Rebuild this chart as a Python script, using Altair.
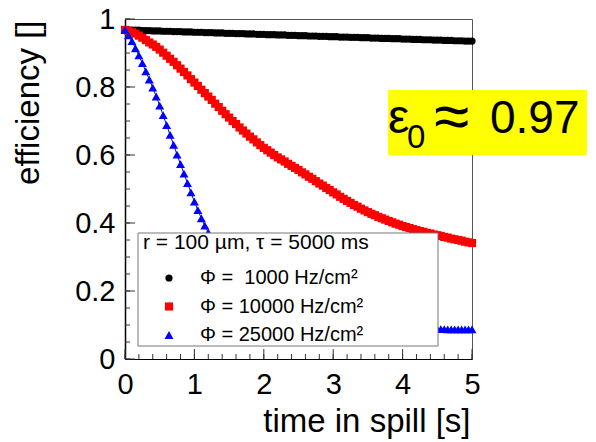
import altair as alt
import pandas as pd

# ---------------- data ----------------
time_s = [round(0.05 * i, 2) for i in range(101)]

eff_1000 = [
    0.968, 0.968, 0.967, 0.967, 0.967, 0.966, 0.966, 0.966, 0.965, 0.965,
    0.965, 0.964, 0.964, 0.964, 0.963, 0.963, 0.963, 0.962, 0.962, 0.962,
    0.961, 0.961, 0.961, 0.960, 0.960, 0.960, 0.959, 0.959, 0.959, 0.958,
    0.958, 0.958, 0.957, 0.957, 0.957, 0.956, 0.956, 0.956, 0.955, 0.955,
    0.955, 0.954, 0.954, 0.954, 0.953, 0.953, 0.953, 0.952, 0.952, 0.952,
    0.951, 0.951, 0.951, 0.950, 0.950, 0.950, 0.949, 0.949, 0.949, 0.948,
    0.948, 0.948, 0.947, 0.947, 0.947, 0.946, 0.946, 0.946, 0.945, 0.945,
    0.945, 0.944, 0.944, 0.944, 0.943, 0.943, 0.943, 0.942, 0.942, 0.942,
    0.941, 0.941, 0.941, 0.940, 0.940, 0.940, 0.939, 0.939, 0.939, 0.938,
    0.938, 0.938, 0.937, 0.937, 0.937, 0.936, 0.936, 0.936, 0.935, 0.935,
    0.935,
]

eff_10000 = [
    0.968, 0.965, 0.961, 0.957, 0.951, 0.945, 0.938, 0.931, 0.925, 0.918,
    0.910, 0.901, 0.892, 0.883, 0.874, 0.864, 0.854, 0.844, 0.834, 0.823,
    0.813, 0.803, 0.792, 0.782, 0.772, 0.762, 0.751, 0.741, 0.730, 0.720,
    0.710, 0.700, 0.691, 0.681, 0.672, 0.663, 0.654, 0.646, 0.637, 0.629,
    0.621, 0.614, 0.607, 0.600, 0.593, 0.587, 0.581, 0.574, 0.568, 0.562,
    0.556, 0.549, 0.543, 0.536, 0.530, 0.523, 0.516, 0.510, 0.503, 0.497,
    0.490, 0.484, 0.477, 0.471, 0.465, 0.459, 0.453, 0.448, 0.442, 0.437,
    0.432, 0.427, 0.423, 0.418, 0.414, 0.410, 0.406, 0.402, 0.398, 0.395,
    0.391, 0.388, 0.385, 0.382, 0.379, 0.376, 0.374, 0.371, 0.369, 0.366,
    0.364, 0.362, 0.359, 0.357, 0.354, 0.352, 0.350, 0.348, 0.345, 0.343,
    0.341,
]

eff_25000 = [
    0.968, 0.952, 0.935, 0.914, 0.893, 0.870, 0.846, 0.822, 0.798, 0.772,
    0.745, 0.717, 0.688, 0.659, 0.630, 0.601, 0.573, 0.545, 0.517, 0.490,
    0.463, 0.438, 0.414, 0.392, 0.372, 0.352, 0.333, 0.315, 0.298, 0.282,
    0.267, 0.253, 0.240, 0.228, 0.217, 0.206, 0.196, 0.187, 0.178, 0.170,
    0.163, 0.156, 0.150, 0.144, 0.139, 0.134, 0.130, 0.126, 0.122, 0.119,
    0.116, 0.113, 0.111, 0.109, 0.107, 0.105, 0.103, 0.102, 0.101, 0.100,
    0.099, 0.098, 0.097, 0.096, 0.095, 0.095, 0.094, 0.094, 0.093, 0.093,
    0.092, 0.092, 0.092, 0.091, 0.091, 0.091, 0.090, 0.090, 0.090, 0.090,
    0.089, 0.089, 0.089, 0.089, 0.089, 0.088, 0.088, 0.088, 0.088, 0.088,
    0.088, 0.088, 0.088, 0.087, 0.087, 0.087, 0.087, 0.087, 0.087, 0.087,
    0.087,
]

series_labels = ["Φ = \u00a01000 Hz/cm²", "Φ = 10000 Hz/cm²", "Φ = 25000 Hz/cm²"]
series_colors = ["#000000", "#ff0000", "#0000ff"]
series_shapes = ["circle", "square", "triangle-up"]
series_sizes = [52, 81, 50]
legend_header = "r = 100 µm, τ = 5000 ms"

x_major = [0, 1, 2, 3, 4, 5]
x_minor = [round(0.2 * i, 1) for i in range(26)]
y_major = [0, 0.2, 0.4, 0.6, 0.8, 1.0]
y_minor = [round(0.05 * i, 2) for i in range(21)]

note_eps = "ε"
note_sub = "0"
note_approx = "≈"
note_value = "0.97"

x_title = "time in spill [s]"
y_title = "efficiency []"

# ---------------- build table ----------------
rows = []
for lab, vals in zip(series_labels, [eff_1000, eff_10000, eff_25000]):
    for t, v in zip(time_s, vals):
        rows.append({"t": t, "eff": v, "series": lab})
df = pd.DataFrame(rows)

W, H = 347, 340
FONT = "Liberation Sans"
xs = alt.Scale(domain=[0, 5], nice=False, zero=False)
ys = alt.Scale(domain=[0, 1], nice=False, zero=False)

base = alt.Chart(df)

legend = alt.Legend(
    title=legend_header, orient="none", legendX=13, legendY=208,
    padding=5, titlePadding=15, rowPadding=8.5, symbolOffset=16, labelOffset=21,
    labelFontSize=20, titleFontSize=21, titleFontWeight="normal",
    titleColor="black", labelColor="black", symbolSize=50,
    titleLimit=500, labelLimit=500, titleAnchor="start",
    symbolStrokeWidth=0,
)

x_main = alt.Axis(
    values=x_major, format="d", labelFontSize=29, labelPadding=11,
    ticks=False, tickSize=0, domainColor="black", domainWidth=1,
    grid=False, title=x_title, titleFontSize=33, titleFontWeight="normal",
    titleAnchor="end", titleAlign="right", titleX=W - 2, titleY=72,
    titleBaseline="alphabetic", labelColor="black", titleColor="black",
    labelFlush=False, labelOverlap=False,
)
y_main = alt.Axis(
    values=y_major, format="~g", labelFontSize=29, labelPadding=10,
    ticks=False, tickSize=0, domainColor="black", domainWidth=1.5,
    grid=False, title=y_title, titleFontSize=33, titleFontWeight="normal",
    titleAngle=270, titleAlign="right", titleX=-87, titleY=1,
    titleBaseline="alphabetic", labelColor="black", titleColor="black",
    labelFlush=False, labelOverlap=False,
)

lines = []
for lab, col in zip(series_labels, series_colors):
    lines.append(
        base.transform_filter(alt.datum.series == lab)
        .mark_line(color=col, strokeWidth=1)
        .encode(
            x=alt.X("t:Q", scale=xs, axis=None),
            y=alt.Y("eff:Q", scale=ys, axis=None),
        )
    )

points = base.mark_point(filled=True, opacity=1, strokeWidth=0).encode(
    x=alt.X("t:Q", scale=xs, axis=x_main),
    y=alt.Y("eff:Q", scale=ys, axis=y_main),
    color=alt.Color("series:N", scale=alt.Scale(domain=series_labels, range=series_colors), legend=legend),
    shape=alt.Shape("series:N", scale=alt.Scale(domain=series_labels, range=series_shapes), legend=legend),
    size=alt.Size("series:N", scale=alt.Scale(domain=series_labels, range=series_sizes), legend=None),
)

# inward tick marks (ROOT style), positioned through the shared scales
TICK_COLOR = "#333333"
xt_major = alt.Chart(pd.DataFrame({"v": x_major})).mark_rule(color=TICK_COLOR, strokeWidth=1).encode(
    x=alt.X("v:Q", scale=xs, axis=None), y=alt.value(H), y2=alt.value(H - 10))
xt_minor = alt.Chart(pd.DataFrame({"v": x_minor})).mark_rule(color=TICK_COLOR, strokeWidth=1).encode(
    x=alt.X("v:Q", scale=xs, axis=None), y=alt.value(H), y2=alt.value(H - 5))
yt_major = alt.Chart(pd.DataFrame({"v": y_major})).mark_rule(color=TICK_COLOR, strokeWidth=1).encode(
    y=alt.Y("v:Q", scale=ys, axis=None), x=alt.value(0), x2=alt.value(10))
yt_minor = alt.Chart(pd.DataFrame({"v": y_minor})).mark_rule(color=TICK_COLOR, strokeWidth=1).encode(
    y=alt.Y("v:Q", scale=ys, axis=None), x=alt.value(0), x2=alt.value(5))

one = pd.DataFrame({"k": [0]})
legend_box = alt.Chart(one).mark_rect(fill="white", stroke="#777777", strokeWidth=1).encode(
    x=alt.value(13), x2=alt.value(313), y=alt.value(214), y2=alt.value(327)
)
yellow = alt.Chart(one).mark_rect(color="#ffff00").encode(
    x=alt.value(263), x2=alt.value(462), y=alt.value(71), y2=alt.value(136)
)
t_eps = alt.Chart(one).mark_text(text=note_eps, fontSize=48, align="left", baseline="alphabetic",
                                 font=FONT, color="black").encode(x=alt.value(263), y=alt.value(114))
t_sub = alt.Chart(one).mark_text(text=note_sub, fontSize=33, align="left", baseline="alphabetic",
                                 font=FONT, color="black").encode(x=alt.value(282), y=alt.value(129))
t_apx = alt.Chart(one).mark_text(text=note_approx, fontSize=64, align="center", baseline="alphabetic",
                                 font=FONT, color="black").encode(x=alt.value(326.5), y=alt.value(118.5))
t_val = alt.Chart(one).mark_text(text=note_value, fontSize=46, align="left", baseline="alphabetic",
                                 font=FONT, color="black").encode(x=alt.value(365), y=alt.value(114))

chart = (
    alt.layer(*lines, points, xt_minor, xt_major, yt_minor, yt_major, legend_box,
              yellow, t_eps, t_sub, t_apx, t_val)
    .resolve_axis(x="independent", y="independent")
    .properties(
        width=W, height=H,
        padding={"left": 125, "top": 19, "right": 124, "bottom": 83},
        autosize=alt.AutoSizeParams(type="none"),
    )
    .configure(font=FONT)
    .configure_view(stroke="#555555", strokeWidth=1)
)

chart.save("out.html", embed_options={"renderer": "svg", "actions": False})
